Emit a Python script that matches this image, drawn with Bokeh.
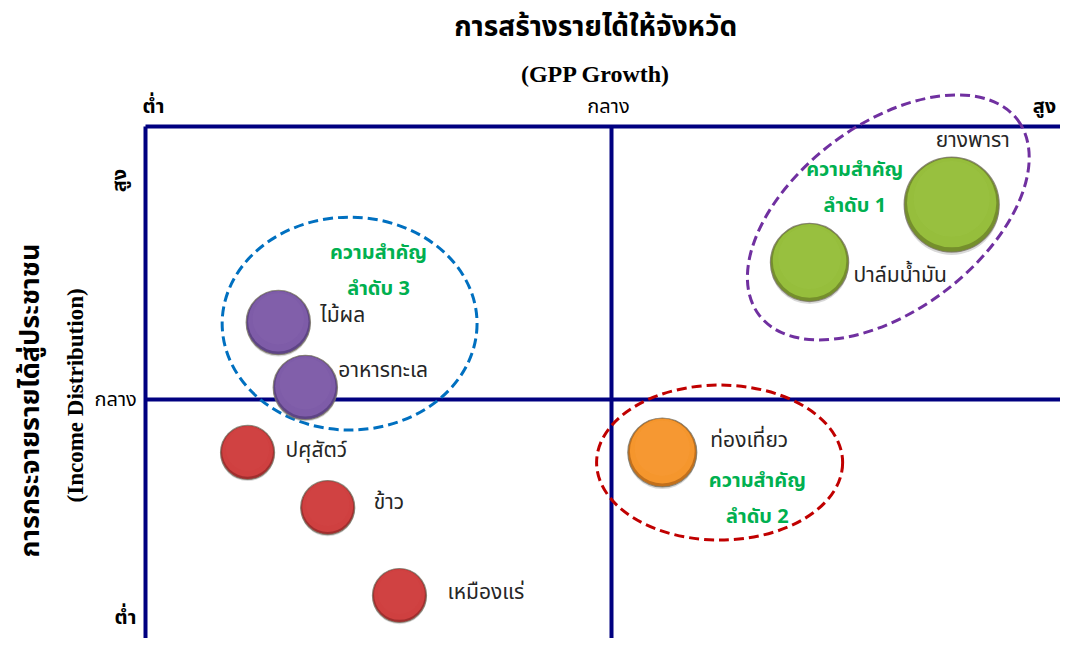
import numpy as np
from bokeh.plotting import figure
from bokeh.models import ColumnDataSource, Range1d
from bokeh.core.properties import value
from bokeh.embed import file_html
from bokeh.resources import INLINE

# ---------------- data ----------------
title_text = "การสร้างรายได้ให้จังหวัด"
x_title_en = "(GPP Growth)"
y_title_th = "การกระจายรายได้สู่ประชาชน"
y_title_en = "(Income Distribution)"

level_labels = ["ต่ำ", "กลาง", "สูง"]          # low / mid / high
level_values = [0, 1, 2]

items = ["ยางพารา", "ปาล์มน้ำมัน", "ไม้ผล", "อาหารทะเล",
         "ปศุสัตว์", "ข้าว", "เหมืองแร่", "ท่องเที่ยว"]
gpp_growth = [1.730, 1.425, 0.285, 0.343, 0.219, 0.391, 0.545, 1.109]
income_dist = [1.714, 1.502, 1.282, 1.044, 0.806, 0.604, 0.282, 0.806]
bubble_size = [0.102, 0.084, 0.069, 0.069, 0.058, 0.058, 0.058, 0.074]
item_group = ["g1", "g1", "g3", "g3", "none", "none", "none", "g2"]

group_names = ["g1", "g2", "g3"]
group_text = ["ความสำคัญ\nลำดับ 1", "ความสำคัญ\nลำดับ 2", "ความสำคัญ\nลำดับ 3"]
group_cx = [1.594, 1.232, 0.438]
group_cy = [1.667, 0.769, 1.278]
group_w = [0.695, 0.528, 0.547]
group_h = [0.681, 0.568, 0.780]
group_angle_deg = [37, 0, 0]
group_label_x = [1.522, 1.313, 0.500]
group_label_y = [1.773, 0.637, 1.469]

# ---------------- styles ----------------
NAVY = "#000080"
fill_main = {"g1": "#96be3c", "g2": "#f5962d", "g3": "#7e5ca8", "none": "#cf4040"}
fill_light = {"g1": "#a0c64a", "g2": "#f7a040", "g3": "#8767b0", "none": "#d54a4a"}
ring_col = {"g1": "#758f2c", "g2": "#c2701c", "g3": "#5e4486", "none": "#a12e2e"}
ellipse_col = {"g1": "#7030a0", "g2": "#c00000", "g3": "#0070c0"}
label_dx = [-16, 44, 42, 33, 38, 46, 48, 48]
label_dy = [-64, 13, -7, -17, -2, -5, -3, -12]

THAI = "'Noto Sans Thai', Tahoma, 'Noto Sans', sans-serif"
SERIF = "'Liberation Serif', 'Times New Roman', serif"

W, H = 1060, 638
# pixel-scale of the diagram: 466 px per x unit, 273 px per y unit
XPX, YPX = 466.0, 273.0
x0_px, y2_px = 145.0, 126.0
p = figure(width=W, height=H, output_backend="svg", toolbar_location=None,
           x_range=Range1d(-x0_px / XPX, (W - x0_px) / XPX),
           y_range=Range1d(2 - (H - y2_px) / YPX, 2 + y2_px / YPX),
           min_border=0, min_border_left=0, min_border_right=0,
           min_border_top=0, min_border_bottom=0)
p.xaxis.visible = False
p.yaxis.visible = False
p.grid.visible = False
p.outline_line_color = None
p.background_fill_color = "white"

# ---------------- quadrant lines ----------------
lo, mid, hi = level_values
p.segment(x0=[lo, lo, lo, lo, mid, hi], y0=[hi, mid, lo, lo, lo, lo],
          x1=[hi, hi, hi, lo, mid, hi], y1=[hi, mid, lo, hi, hi, hi],
          line_color=NAVY, line_width=4)

# ---------------- group ellipses ----------------
esrc = ColumnDataSource(dict(
    x=group_cx, y=group_cy, w=group_w, h=group_h,
    a=[np.deg2rad(d) for d in group_angle_deg],
    c=[ellipse_col[g] for g in group_names]))
p.ellipse(x="x", y="y", width="w", height="h", angle="a", source=esrc,
          fill_color=None, line_color="c", line_width=3, line_dash="10 5")

# ---------------- bubbles ----------------
r = np.array(bubble_size)
bx = np.array(gpp_growth)
by = np.array(income_dist)
r_y = r * XPX / YPX  # radius expressed in y units
src = ColumnDataSource(dict(
    x=bx, y=by, r=r, name=items,
    ys=by - r_y * 0.06,
    yi=by + r_y * 0.04,
    ri=r * 0.94,
    yh=by + r_y * 0.12,
    rh=r * 0.8,
    main=[fill_main[g] for g in item_group],
    light=[fill_light[g] for g in item_group],
    ring=[ring_col[g] for g in item_group],
    dx=label_dx, dy=label_dy))
# soft shadow
p.circle(x="x", y="ys", radius="r", source=src, fill_color="#808080",
         fill_alpha=0.3, line_color=None)
p.circle(x="x", y="y", radius="r", source=src, fill_color="ring",
         line_color="#7a7566", line_width=1.2, line_alpha=0.8)
p.circle(x="x", y="yi", radius="ri", source=src, fill_color="main",
         line_color=None)
p.circle(x="x", y="yh", radius="rh", source=src, fill_color="light",
         fill_alpha=0.3, line_color=None)

# item labels
p.text(x="x", y="y", text="name", x_offset="dx", y_offset="dy", source=src,
       text_font=value(THAI), text_font_size="21px", text_color="#262626",
       text_align="left", text_baseline="middle")

# group labels
p.text(x=group_label_x, y=group_label_y, text=group_text,
       text_font=value(THAI), text_font_size="20px", text_font_style="bold",
       text_color="#00b050", text_align="center", text_baseline="middle",
       text_line_height=1.2)

# ---------------- titles ----------------
p.text(x=[0.966], y=[2.363], text=[title_text], text_font=value(THAI),
       text_font_size="28px", text_font_style="bold", text_color="black",
       text_align="center", text_baseline="middle")
p.text(x=[0.966], y=[2.194], text=[x_title_en], text_font=value(SERIF),
       text_font_size="24px", text_font_style="bold", text_color="black",
       text_align="center", text_baseline="middle")
p.text(x=[-0.247], y=[0.996], text=[y_title_th], text_font=value(THAI),
       text_font_size="27px", text_font_style="bold", text_color="black",
       angle=np.pi / 2, text_align="center", text_baseline="middle")
p.text(x=[-0.150], y=[1.015], text=[y_title_en], text_font=value(SERIF),
       text_font_size="23px", text_font_style="bold", text_color="black",
       angle=np.pi / 2, text_align="center", text_baseline="middle")

# x level labels (top)
p.text(x=[level_values[0], level_values[2]], y=[2.07, 2.07],
       text=[level_labels[0], level_labels[2]], x_offset=[8, -33],
       text_font=value(THAI), text_font_size="20px", text_font_style="bold",
       text_color="black", text_align="center", text_baseline="middle")
p.text(x=[level_values[1]], y=[2.07], text=[level_labels[1]], x_offset=[-3],
       text_font=value(THAI), text_font_size="20px", text_color="black",
       text_align="center", text_baseline="middle")
# y level labels (left)
p.text(x=[-0.064], y=[level_values[1]], text=[level_labels[1]],
       text_font=value(THAI), text_font_size="20px", text_color="black",
       text_align="center", text_baseline="middle")
p.text(x=[-0.054], y=[1.802], text=[level_labels[2]], angle=np.pi / 2,
       text_font=value(THAI), text_font_size="20px", text_font_style="bold",
       text_color="black", text_align="center", text_baseline="middle")
p.text(x=[-0.043], y=[0.20], text=[level_labels[0]],
       text_font=value(THAI), text_font_size="20px", text_font_style="bold",
       text_color="black", text_align="center", text_baseline="middle")

open("out.html", "w").write(file_html(p, INLINE))
